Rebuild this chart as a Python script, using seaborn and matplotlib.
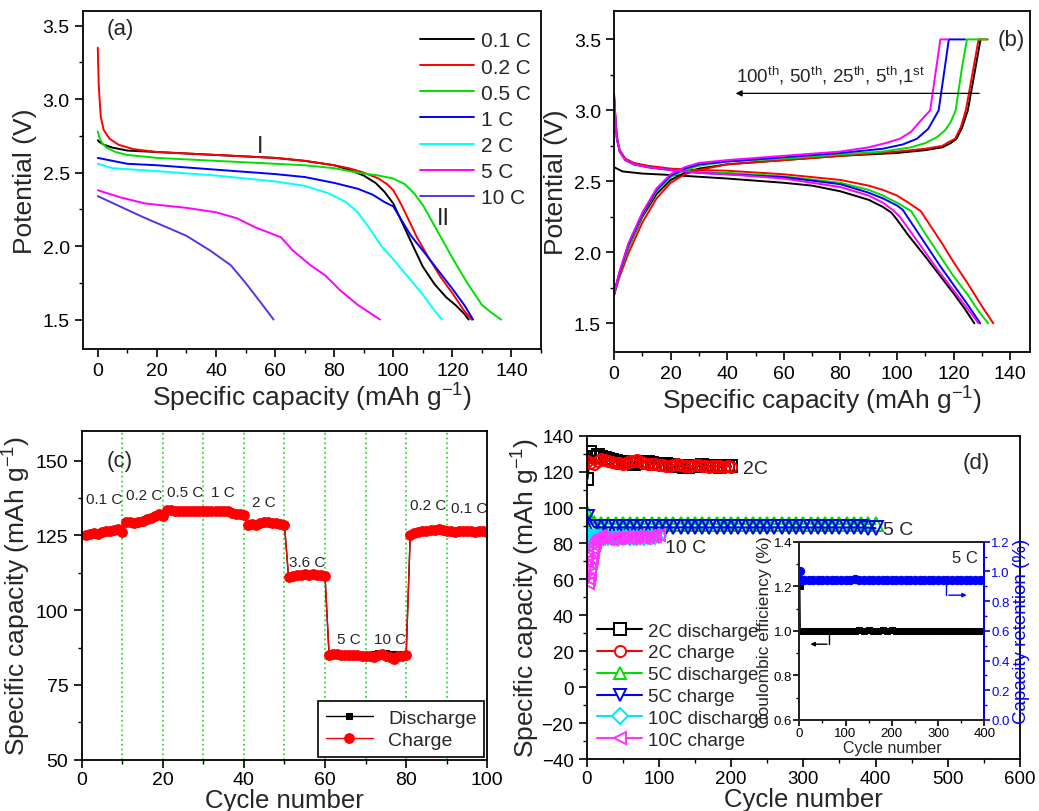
import pandas as pd
import seaborn as sns
import matplotlib.pyplot as plt
from matplotlib.ticker import MultipleLocator

sns.set_theme(style="ticks")
plt.rcParams['font.family'] = ['Liberation Sans', 'DejaVu Sans']
plt.rcParams['mathtext.fontset'] = 'custom'
plt.rcParams['mathtext.rm'] = 'Liberation Sans'
plt.rcParams['mathtext.it'] = 'Liberation Sans:italic'
plt.rcParams['mathtext.bf'] = 'Liberation Sans:bold'

# ---------------- (a) discharge curves at different rates ----------------
rates_a = ["0.1 C", "0.2 C", "0.5 C", "1 C", "2 C", "5 C", "10 C"]
colors_a = ["#000000", "#ff0000", "#00e000", "#0000ff", "#00ffff", "#ff00ff", "#5a32e6"]

cap_01 = [0, 0.5, 2, 5, 10, 20, 30, 40, 50, 60, 70, 80, 85, 90, 94, 97, 100, 103, 106, 110, 114, 118, 121, 124, 125.5]
volt_01 = [2.72, 2.71, 2.69, 2.67, 2.65, 2.64, 2.63, 2.62, 2.61, 2.60, 2.58, 2.55, 2.52, 2.48, 2.43, 2.37, 2.29, 2.16, 2.03, 1.86, 1.74, 1.65, 1.60, 1.54, 1.50]
cap_02 = [0, 0.3, 1, 2, 4, 7, 12, 20, 30, 40, 50, 60, 70, 80, 85, 90, 95, 98, 100, 102, 104, 108, 112, 116, 120, 124, 126.5]
volt_02 = [3.35, 3.1, 2.88, 2.79, 2.73, 2.69, 2.66, 2.64, 2.63, 2.62, 2.61, 2.60, 2.58, 2.55, 2.53, 2.50, 2.46, 2.42, 2.38, 2.31, 2.23, 2.06, 1.92, 1.79, 1.68, 1.56, 1.50]
cap_05 = [0, 0.5, 1.5, 3, 6, 10, 20, 30, 40, 50, 60, 70, 80, 88, 95, 100, 104, 107, 110, 115, 120, 125, 130, 133, 136.5]
volt_05 = [2.78, 2.74, 2.70, 2.67, 2.64, 2.62, 2.60, 2.59, 2.58, 2.57, 2.56, 2.55, 2.53, 2.50, 2.48, 2.46, 2.42, 2.36, 2.28, 2.10, 1.92, 1.75, 1.60, 1.55, 1.50]
cap_1 = [0, 10, 20, 40, 60, 70, 80, 88, 93, 97, 100, 103, 106, 110, 115, 120, 124, 127]
volt_1 = [2.60, 2.56, 2.55, 2.52, 2.49, 2.47, 2.43, 2.39, 2.35, 2.30, 2.27, 2.17, 2.07, 1.97, 1.84, 1.71, 1.60, 1.50]
cap_2 = [0, 5, 20, 40, 60, 70, 78, 84, 88, 92, 96, 100, 105, 110, 114, 116.5]
volt_2 = [2.56, 2.53, 2.51, 2.48, 2.44, 2.41, 2.36, 2.30, 2.23, 2.12, 2.00, 1.91, 1.79, 1.67, 1.56, 1.50]
cap_5 = [0, 8, 16, 30, 40, 47, 53, 62, 66, 72, 77, 82, 88, 95.5]
volt_5 = [2.38, 2.33, 2.29, 2.26, 2.23, 2.19, 2.13, 2.06, 1.97, 1.87, 1.80, 1.70, 1.60, 1.50]
cap_10 = [0, 15, 30, 38, 45, 50, 55, 59.5]
volt_10 = [2.34, 2.20, 2.07, 1.97, 1.87, 1.75, 1.62, 1.50]

# ---------------- (b) charge/discharge curves at different cycles ----------------
cycles_b = ["1st", "5th", "25th", "50th", "100th"]
colors_b = ["#000000", "#ff0000", "#00dd00", "#0000ff", "#ff00ff"]

chg_cap_1 = [0, 2, 5, 10, 15, 20, 25, 30, 40, 60, 80, 100, 110, 116, 119, 121, 123, 125, 127, 129.5]
chg_v_1 = [1.72, 1.86, 2.03, 2.25, 2.41, 2.51, 2.56, 2.59, 2.62, 2.65, 2.68, 2.70, 2.72, 2.74, 2.77, 2.80, 2.88, 3.00, 3.22, 3.50]
chg_cap_5 = [0, 2, 5, 10, 15, 20, 25, 30, 40, 60, 80, 100, 110, 116, 118.5, 120.5, 122.5, 124.3, 126.3, 128.8, 132]
chg_v_5 = [1.70, 1.83, 1.99, 2.21, 2.38, 2.49, 2.55, 2.58, 2.62, 2.65, 2.68, 2.71, 2.73, 2.75, 2.78, 2.80, 2.88, 3.00, 3.22, 3.50, 3.50]
chg_cap_25 = [0, 2, 5, 10, 15, 20, 25, 30, 40, 60, 80, 95, 105, 110, 114, 117, 119, 120.7, 123, 124.7, 131.5]
chg_v_25 = [1.70, 1.85, 2.03, 2.26, 2.43, 2.53, 2.58, 2.61, 2.64, 2.66, 2.69, 2.71, 2.74, 2.77, 2.81, 2.86, 2.92, 3.00, 3.31, 3.50, 3.50]
chg_cap_50 = [0, 2, 5, 10, 15, 20, 25, 30, 40, 60, 80, 95, 102, 107, 111, 113, 114.7, 116.5, 118.3, 124]
chg_v_50 = [1.70, 1.86, 2.05, 2.27, 2.44, 2.54, 2.59, 2.62, 2.64, 2.67, 2.70, 2.73, 2.76, 2.80, 2.87, 2.94, 3.00, 3.25, 3.50, 3.50]
chg_cap_100 = [0, 2, 5, 10, 15, 20, 25, 30, 40, 60, 80, 90, 96, 101, 105, 108, 111.7, 113.5, 115.3, 118]
chg_v_100 = [1.70, 1.87, 2.06, 2.28, 2.45, 2.55, 2.60, 2.63, 2.65, 2.68, 2.71, 2.74, 2.77, 2.80, 2.85, 2.92, 3.00, 3.25, 3.50, 3.50]

dis_cap_1 = [0, 3, 10, 20, 40, 60, 70, 80, 90, 95, 98, 100, 104, 110, 115, 120, 124, 127.3]
dis_v_1 = [2.60, 2.57, 2.555, 2.545, 2.52, 2.49, 2.47, 2.43, 2.37, 2.32, 2.28, 2.23, 2.12, 1.97, 1.84, 1.71, 1.60, 1.50]
dis_cap_5 = [0, 0.5, 1, 2, 4, 7, 12, 20, 30, 40, 60, 80, 90, 95, 100, 104, 108.4, 116, 120, 125, 130, 134]
dis_v_5 = [3.12, 2.95, 2.82, 2.72, 2.66, 2.63, 2.61, 2.59, 2.58, 2.575, 2.55, 2.51, 2.47, 2.44, 2.40, 2.35, 2.29, 2.06, 1.93, 1.78, 1.62, 1.50]
dis_cap_25 = [0, 0.5, 1, 2, 4, 7, 12, 20, 30, 40, 60, 80, 90, 95, 100, 105, 110, 115, 120, 125, 129, 132.2]
dis_v_25 = [3.10, 2.93, 2.80, 2.71, 2.65, 2.62, 2.60, 2.58, 2.565, 2.56, 2.535, 2.49, 2.44, 2.40, 2.35, 2.29, 2.13, 1.98, 1.83, 1.70, 1.58, 1.50]
dis_cap_50 = [0, 0.5, 1, 2, 4, 7, 12, 20, 30, 40, 60, 80, 90, 95, 100, 102, 106, 110, 115, 120, 125, 129.4]
dis_v_50 = [3.10, 2.93, 2.80, 2.71, 2.65, 2.62, 2.60, 2.58, 2.56, 2.55, 2.53, 2.48, 2.42, 2.38, 2.33, 2.30, 2.18, 2.06, 1.91, 1.77, 1.63, 1.50]
dis_cap_100 = [0, 0.5, 1, 2, 4, 7, 12, 20, 30, 40, 60, 80, 90, 95, 99, 101, 105, 110, 115, 120, 125, 128.8]
dis_v_100 = [3.10, 2.93, 2.80, 2.71, 2.65, 2.62, 2.60, 2.58, 2.56, 2.55, 2.52, 2.46, 2.40, 2.35, 2.29, 2.25, 2.14, 2.00, 1.86, 1.73, 1.60, 1.50]

# ---------------- (c) rate capability ----------------
cycles_c = list(range(1, 101))
discharge_c = [125.2, 125.6, 125.5, 125.8, 126.0, 126.2, 126.5, 126.8, 127.0, 126.2,
               129.5, 129.3, 129.0, 129.2, 129.5, 130.0, 130.5, 131.2, 131.8, 131.5,
               133.5, 133.3, 133.0, 133.0, 133.2, 133.0, 132.8, 133.0, 133.0, 133.0,
               133.0, 133.0, 133.2, 133.0, 133.0, 133.2, 132.5, 132.2, 132.0, 131.8,
               128.8, 128.5, 128.5, 129.0, 129.3, 129.2, 129.0, 129.0, 128.8, 128.5,
               111.0, 111.3, 111.5, 111.6, 111.8, 111.6, 111.8, 111.7, 111.5, 111.3,
               84.8, 85.0, 85.2, 85.0, 85.0, 84.8, 85.0, 85.0, 84.8, 85.0,
               85.0, 85.2, 85.5, 85.8, 85.6, 85.3, 85.2, 85.4, 85.2, 85.0,
               125.0, 125.6, 126.0, 126.1, 126.4, 126.5, 126.6, 126.8, 126.6, 126.5,
               126.2, 126.0, 126.3, 126.1, 126.4, 126.2, 126.0, 126.3, 126.1, 126.0]
charge_c = [125.0, 125.5, 125.8, 125.6, 126.0, 126.3, 126.6, 126.9, 127.1, 126.0,
            129.3, 129.5, 129.2, 129.4, 129.8, 130.3, 130.8, 131.5, 132.0, 131.6,
            133.6, 133.4, 133.2, 133.1, 133.3, 133.1, 133.0, 133.1, 133.2, 133.0,
            133.1, 133.0, 133.3, 133.1, 133.0, 133.3, 132.6, 132.3, 132.0, 131.9,
            128.6, 128.7, 128.4, 129.1, 129.4, 129.3, 129.1, 129.0, 128.9, 128.6,
            111.2, 111.4, 111.6, 111.8, 112.0, 111.7, 112.0, 111.8, 111.6, 111.4,
            85.0, 85.3, 85.2, 85.1, 85.0, 84.9, 85.0, 84.9, 84.7, 84.8,
            84.6, 84.3, 84.9, 85.2, 84.8, 84.4, 83.8, 84.5, 84.8, 85.0,
            125.2, 125.8, 126.2, 126.3, 126.5, 126.7, 126.8, 127.0, 126.7, 126.6,
            126.4, 126.1, 126.4, 126.3, 126.5, 126.3, 126.2, 126.4, 126.3, 126.1]
rate_labels_c = ["0.1 C", "0.2 C", "0.5 C", "1 C", "2 C", "3.6 C", "5 C", "10 C", "0.2 C", "0.1 C"]
rate_label_x = [1, 11, 21, 32, 42, 51, 63, 72, 81, 91]
rate_label_y = [137, 138.5, 139.5, 139.5, 136, 116, 90.5, 90.5, 135, 134]

# ---------------- (d) long cycling ----------------
cyc_2c = [1] + list(range(5, 201, 5))
dis_2c = [116, 131, 128, 129, 128, 127.5, 127, 126.5, 126, 125.5, 125.5, 125, 125, 124.5, 125,
          125, 125.5, 125.5, 125, 124.5, 124.5, 124, 124, 123.5, 123.5, 123, 123, 122.5, 122.5, 123,
          123, 123, 123.5, 123, 123, 123, 123, 122.5, 123, 123, 123]
chg_2c = [126, 125, 124, 126, 127, 126.5, 126, 125.5, 125, 125, 124.5, 125, 126, 126, 126.5,
          125.5, 125, 124.5, 124, 124, 123.5, 123.5, 123, 123, 123.5, 124, 123.5, 123, 123, 123,
          123.5, 123.5, 123, 123, 122.5, 123, 123, 123, 122.5, 123, 122.5]
cyc_5c = [1] + list(range(10, 401, 10))
dis_5c = [97, 91.2, 91.0, 91.1, 91.0, 90.9, 91.0, 91.1, 91.0, 91.0, 90.9, 91.0, 91.0, 91.1, 91.0,
          90.9, 91.0, 91.0, 90.9, 91.0, 91.0, 91.0, 90.9, 91.0, 91.0, 91.0, 90.9, 91.0, 91.0, 90.9,
          91.0, 91.0, 90.9, 91.0, 91.0, 90.9, 91.0, 90.9, 91.0, 90.9, 90.8]
chg_5c = [95, 89.2, 89.0, 89.0, 88.9, 89.0, 89.0, 88.9, 89.0, 89.0, 88.9, 89.0, 88.9, 89.0, 89.0,
          88.9, 89.0, 88.9, 89.0, 89.0, 88.9, 89.0, 88.9, 89.0, 89.0, 88.9, 89.0, 88.9, 89.0, 88.9,
          89.0, 88.9, 89.0, 88.9, 89.0, 88.9, 88.9, 89.0, 88.9, 88.8, 88.5]
cyc_10c = list(range(1, 11)) + [12, 14, 16, 18, 20] + list(range(25, 101, 5))
dis_10c = [85, 80, 82, 83, 83.5, 83.5, 83.5, 83.5, 83.5, 83.5,
           83.5, 83.5, 83.5, 83.5, 83.5,
           83, 83, 83, 83, 83, 83, 83.5, 83, 83, 83, 83.5, 83, 83.5, 83.5, 83.5, 84]
chg_10c = [70, 58, 60, 63, 66, 69, 72, 75, 77, 79,
           81, 82.5, 83.5, 83.5, 84,
           83, 82.5, 82.5, 83, 83, 83, 83.5, 83, 83, 83.5, 83.5, 83, 83.5, 84, 84, 84.5]

# inset: coulombic efficiency and capacity retention at 5 C
cyc_in = [1, 2] + list(range(10, 401, 10))
ce_5c = [1.2, 1.0, 1.0, 1.0, 1.0, 1.0, 1.0, 1.0, 1.0, 1.0, 1.0, 1.0, 1.0, 1.0, 1.003,
         1.0, 1.003, 1.0, 1.0, 1.003, 1.0, 1.002, 1.0, 1.0, 1.0, 1.0, 1.0, 1.0, 1.0, 1.0,
         1.0, 1.0, 1.0, 1.0, 1.0, 1.0, 1.0, 1.0, 1.0, 1.0, 1.0, 1.0]
ret_5c = [1.0, 0.945, 0.945, 0.945, 0.944, 0.945, 0.945, 0.944, 0.945, 0.945, 0.944, 0.945,
          0.945, 0.946, 0.944, 0.945, 0.944, 0.945, 0.945, 0.944, 0.945, 0.945, 0.944, 0.945,
          0.945, 0.944, 0.945, 0.945, 0.944, 0.945, 0.945, 0.944, 0.945, 0.945, 0.944, 0.945,
          0.945, 0.944, 0.945, 0.945, 0.944, 0.945]

TICK = 14
LAB = 19


def style_axis(ax, size=TICK):
    for sp in ax.spines.values():
        sp.set_visible(True)
        sp.set_linewidth(1.3)
        sp.set_color("black")
    ax.tick_params(which="major", direction="out", length=6, width=1.2, labelsize=size, colors="black")
    ax.tick_params(which="minor", direction="out", length=3, width=1.0, colors="black")


fig = plt.figure(figsize=(10.39, 8.12), dpi=100)

# ---- panel (a)
rows = []
for r, c, v in zip(rates_a, [cap_01, cap_02, cap_05, cap_1, cap_2, cap_5, cap_10],
                   [volt_01, volt_02, volt_05, volt_1, volt_2, volt_5, volt_10]):
    for xx, yy in zip(c, v):
        rows.append((r, xx, yy))
df_a = pd.DataFrame(rows, columns=["rate", "cap", "volt"])

ax_a = fig.add_axes([0.0799, 0.5690, 0.4408, 0.4163])
sns.lineplot(data=df_a, x="cap", y="volt", hue="rate", hue_order=rates_a,
             palette=dict(zip(rates_a, colors_a)), sort=False, estimator=None, lw=1.4, ax=ax_a)
ax_a.set_xlim(-5, 150)
ax_a.set_ylim(1.3, 3.6)
ax_a.xaxis.set_major_locator(MultipleLocator(20))
ax_a.xaxis.set_minor_locator(MultipleLocator(10))
ax_a.yaxis.set_major_locator(MultipleLocator(0.5))
ax_a.yaxis.set_minor_locator(MultipleLocator(0.25))
ax_a.set_xlabel("Specific capacity (mAh g$^{-1}$)", fontsize=LAB, labelpad=1)
ax_a.set_ylabel("Potential (V)", fontsize=LAB)
style_axis(ax_a)
sns.move_legend(ax_a, "upper right", bbox_to_anchor=(1.0, 0.97), frameon=False, title=None,
                fontsize=15, handlelength=2.6, handletextpad=0.3, labelspacing=0.34, borderaxespad=0.1)
ax_a.text(3, 3.48, "(a)", fontsize=16, va="center")
ax_a.text(55, 2.68, "I", fontsize=17, ha="center", va="center")
ax_a.text(117, 2.19, "II", fontsize=17, ha="center", va="center")

# ---- panel (b)
rows = []
for cy, c, v in zip(cycles_b, [chg_cap_1, chg_cap_5, chg_cap_25, chg_cap_50, chg_cap_100],
                    [chg_v_1, chg_v_5, chg_v_25, chg_v_50, chg_v_100]):
    for xx, yy in zip(c, v):
        rows.append((cy, "charge", xx, yy))
for cy, c, v in zip(cycles_b, [dis_cap_1, dis_cap_5, dis_cap_25, dis_cap_50, dis_cap_100],
                    [dis_v_1, dis_v_5, dis_v_25, dis_v_50, dis_v_100]):
    for xx, yy in zip(c, v):
        rows.append((cy, "discharge", xx, yy))
df_b = pd.DataFrame(rows, columns=["cycle", "branch", "cap", "volt"])

ax_b = fig.add_axes([0.5910, 0.5656, 0.4004, 0.4196])
sns.lineplot(data=df_b, x="cap", y="volt", hue="cycle", hue_order=cycles_b, units="branch",
             palette=dict(zip(cycles_b, colors_b)), sort=False, estimator=None, lw=1.4,
             legend=False, ax=ax_b)
ax_b.set_xlim(0, 147)
ax_b.set_ylim(1.3, 3.7)
ax_b.xaxis.set_major_locator(MultipleLocator(20))
ax_b.xaxis.set_minor_locator(MultipleLocator(10))
ax_b.yaxis.set_major_locator(MultipleLocator(0.5))
ax_b.yaxis.set_minor_locator(MultipleLocator(0.25))
ax_b.set_xlabel("Specific capacity (mAh g$^{-1}$)", fontsize=LAB, labelpad=1)
ax_b.set_ylabel("Potential (V)", fontsize=LAB)
style_axis(ax_b)
ax_b.annotate("", xy=(42, 3.12), xytext=(130, 3.12),
              arrowprops=dict(arrowstyle="-|>", color="black", lw=0.9, mutation_scale=9))
ax_b.text(43, 3.17, "100$^{\\mathrm{th}}$, 50$^{\\mathrm{th}}$, 25$^{\\mathrm{th}}$, 5$^{\\mathrm{th}}$,1$^{\\mathrm{st}}$",
          fontsize=13.5, va="bottom")
ax_b.text(135.5, 3.5, "(b)", fontsize=16, va="center")

# ---- panel (c)
ax_c = fig.add_axes([0.0786, 0.0632, 0.3904, 0.4052])
for xv in range(10, 100, 10):
    ax_c.axvline(xv, color="#33dd33", ls=":", lw=1.3, zorder=0)
sns.lineplot(x=cycles_c, y=discharge_c, color="black", lw=1, marker="s", markersize=5,
             markeredgecolor="black", label="Discharge", ax=ax_c)
sns.lineplot(x=cycles_c, y=charge_c, color="red", lw=1, marker="o", markersize=7,
             markeredgecolor="red", label="Charge", ax=ax_c)
ax_c.set_xlim(0, 100)
ax_c.set_ylim(50, 160)
ax_c.xaxis.set_major_locator(MultipleLocator(20))
ax_c.xaxis.set_minor_locator(MultipleLocator(10))
ax_c.yaxis.set_major_locator(MultipleLocator(25))
ax_c.yaxis.set_minor_locator(MultipleLocator(12.5))
ax_c.set_ylabel("Specific capacity (mAh g$^{-1}$)", fontsize=LAB, labelpad=2)
style_axis(ax_c)
ax_c.tick_params(axis="x", which="major", pad=2)
ax_c.set_xlabel("Cycle number", fontsize=18.5, labelpad=0)
leg = ax_c.legend(loc="lower right", fontsize=14, fancybox=False, edgecolor="black", framealpha=1,
                  handlelength=2.4, borderaxespad=0.15, labelspacing=0.25)
leg.get_frame().set_linewidth(1.2)
for t, xx, yy in zip(rate_labels_c, rate_label_x, rate_label_y):
    ax_c.text(xx, yy, t, fontsize=11, va="center")
ax_c.text(6.2, 150, "(c)", fontsize=16, va="center")

# ---- panel (d)
ax_d = fig.add_axes([0.5647, 0.0640, 0.4170, 0.3982])
series_d = [
    (cyc_2c, dis_2c, "black", "s", 8, "2C discharge"),
    (cyc_2c, chg_2c, "red", "o", 8, "2C charge"),
    (cyc_5c, dis_5c, "#00dd00", "^", 10, "5C discharge"),
    (cyc_5c, chg_5c, "#0000ff", "v", 10, "5C charge"),
    (cyc_10c, dis_10c, "#00e5ff", "D", 7, "10C discharge"),
    (cyc_10c, chg_10c, "#ff33ff", "<", 9, "10C charge"),
]
for xs, ys, col, mk, ms, lab in series_d:
    sns.lineplot(x=xs, y=ys, color=col, lw=1.5, marker=mk, markersize=ms, markerfacecolor="none",
                 markeredgecolor=col, mew=1.4, label=lab, ax=ax_d)
ax_d.set_xlim(0, 600)
ax_d.set_ylim(-40, 140)
ax_d.xaxis.set_major_locator(MultipleLocator(100))
ax_d.xaxis.set_minor_locator(MultipleLocator(50))
ax_d.yaxis.set_major_locator(MultipleLocator(20))
ax_d.yaxis.set_minor_locator(MultipleLocator(10))
ax_d.set_ylabel("Specific capacity (mAh g$^{-1}$)", fontsize=LAB, labelpad=0)
style_axis(ax_d, size=13.5)
ax_d.tick_params(axis="x", which="major", pad=2)
ax_d.set_xlabel("Cycle number", fontsize=18.5, labelpad=0)
leg_d = ax_d.legend(loc="lower left", fontsize=13.5, frameon=False, handlelength=2.4, handletextpad=0.3,
                    labelspacing=0.25, borderaxespad=0.15)
for h in leg_d.legend_handles:
    h.set_markerfacecolor("white")
    h.set_markersize(8)
ax_d.text(216, 122, "2C", fontsize=14, va="center")
ax_d.text(410, 88, "5 C", fontsize=14, va="center")
ax_d.text(108, 78, "10 C", fontsize=14, va="center")
ax_d.text(520, 125, "(d)", fontsize=16, va="center")

# ---- inset of (d)
ax_in = fig.add_axes([0.7693, 0.1121, 0.1781, 0.2196])
sns.lineplot(x=cyc_in, y=ce_5c, color="black", lw=1, marker="s", markersize=5,
             markeredgecolor="black", ax=ax_in)
ax_in.set_xlim(0, 400)
ax_in.set_ylim(0.6, 1.4)
ax_in.xaxis.set_major_locator(MultipleLocator(100))
ax_in.xaxis.set_minor_locator(MultipleLocator(50))
ax_in.yaxis.set_major_locator(MultipleLocator(0.2))
ax_in.yaxis.set_minor_locator(MultipleLocator(0.1))
style_axis(ax_in)
ax_in.tick_params(which="major", labelsize=9.5, length=4, pad=1)
ax_in.tick_params(which="minor", length=2)
ax_in.set_xlabel("Cycle number", fontsize=11.5, labelpad=1)
ax_in.set_ylabel("Coulombic efficiency (%)", fontsize=12.5, labelpad=1)
ax_in2 = ax_in.twinx()
sns.lineplot(x=cyc_in, y=ret_5c, color="#0000ff", lw=1, marker="o", markersize=6,
             markeredgecolor="#0000ff", ax=ax_in2)
ax_in2.set_ylim(0, 1.2)
ax_in2.yaxis.set_major_locator(MultipleLocator(0.2))
ax_in2.yaxis.set_minor_locator(MultipleLocator(0.1))
ax_in2.tick_params(which="major", direction="out", length=4, width=1.2, labelsize=9.5, pad=1,
                   colors="#0000ff")
ax_in2.tick_params(which="minor", direction="out", length=2, colors="#0000ff")
ax_in2.spines["right"].set_color("#0000ff")
ax_in2.spines["right"].set_linewidth(1.3)
ax_in2.set_ylabel("Capacity retention (%)", fontsize=13.5, color="#0000ff", labelpad=2)
ax_in.plot([65, 65], [1.0, 0.94], color="black", lw=1)
ax_in.annotate("", xy=(18, 0.94), xytext=(66, 0.94),
               arrowprops=dict(arrowstyle="-|>", color="black", lw=1, mutation_scale=6))
ax_in2.plot([318, 318], [0.945, 0.84], color="#0000ff", lw=1)
ax_in2.annotate("", xy=(368, 0.84), xytext=(317, 0.84),
                arrowprops=dict(arrowstyle="-|>", color="#0000ff", lw=1, mutation_scale=6))
ax_in.text(330, 1.33, "5 C", fontsize=12, va="center")

fig.savefig("out.png", dpi=100, facecolor="white")
